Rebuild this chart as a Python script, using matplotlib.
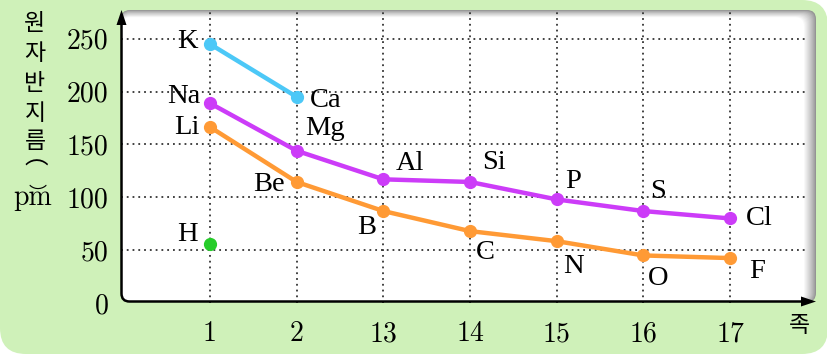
import matplotlib
matplotlib.use("Agg")
import matplotlib.pyplot as plt
from matplotlib.patches import FancyBboxPatch, Rectangle, Polygon, PathPatch
from matplotlib.path import Path

# ---------------- data ----------------
groups = ['1', '2', '13', '14', '15', '16', '17']
yticks = [0, 50, 100, 150, 200, 250]

period1_names = ['H']
period1_vals = [56]
period2_names = ['Li', 'Be', 'B', 'C', 'N', 'O', 'F']
period2_vals = [166.5, 114.5, 87, 68, 58.5, 45, 42.5]
period3_names = ['Na', 'Mg', 'Al', 'Si', 'P', 'S', 'Cl']
period3_vals = [189, 144, 117, 114.5, 98, 87, 80]
period4_names = ['K', 'Ca']
period4_vals = [245, 195]

y_title = ['원', '자', '반', '지', '름']
x_title = '족'
unit = 'pm'
paren_open, paren_close = '\ufe35', '\ufe36'

# label offsets (pixels: dx, dy with dy positive downward) and alignment
label_style = {
    'H': (-12, -9, 'right'), 'Li': (-10, 0, 'right'), 'Be': (-12, 3, 'right'),
    'B': (-7, 16, 'right'), 'C': (6, 21, 'left'), 'N': (6, 25, 'left'),
    'O': (5, 23, 'left'), 'F': (19, 13, 'left'),
    'Na': (-10, -7, 'right'), 'Mg': (8, -22, 'left'), 'Al': (12, -16, 'left'),
    'Si': (12, -19, 'left'), 'P': (8, -18, 'left'), 'S': (7, -20, 'left'),
    'Cl': (16, 0, 'left'), 'K': (-12, -3, 'right'), 'Ca': (13, 4, 'left'),
}

W, H = 828, 354
fig = plt.figure(figsize=(W / 100, H / 100), dpi=100)
fig.patch.set_facecolor('white')

# ---------- background overlay (pixel coordinates) ----------
bg = fig.add_axes([0, 0, 1, 1], zorder=0)
bg.set_xlim(0, W)
bg.set_ylim(H, 0)
bg.axis('off')
green = '#cff1b9'
bg.add_patch(FancyBboxPatch((0, 0), W, H, boxstyle='round,pad=0,rounding_size=26',
                            fc=green, ec='none'))
bg.add_patch(Rectangle((0, 0), 60, 60, fc=green, ec='none'))

# white plot box with gray shaded top/right edges
L, T, R, B = 121, 10, 816, 302
n = 12
for i in range(n + 1):
    g = 0.58 + (1 - 0.58) * (i / n) ** 0.8
    rr = R - i * 1.0
    tt = T + i * 0.6
    bg.add_patch(FancyBboxPatch((L, tt), rr - L, B - tt,
                                boxstyle='round,pad=0,rounding_size=9',
                                fc=(g, g, g), ec='none'))

# ---------- main axes ----------
px_per_unit = 1.057
y0_px = 303
top_px = 12
left_px, right_px = 121, 815
spacing = 86.67
x0_px = 210
ax_left = left_px / W
ax_w = (right_px - left_px) / W
ax_bottom = (H - y0_px) / H
ax_h = (y0_px - top_px) / H
ax = fig.add_axes([ax_left, ax_bottom, ax_w, ax_h], zorder=2)
ax.set_facecolor('none')
ax.set_xlim((left_px - x0_px) / spacing, (right_px - x0_px) / spacing)
ax.set_ylim(0, (y0_px - top_px) / px_per_unit)
for s in ax.spines.values():
    s.set_visible(False)
ax.tick_params(length=0)
ax.set_xticks(range(len(groups)))
ax.set_xticklabels(groups, family='cmr10', fontsize=20)
ax.set_yticks(yticks)
ax.set_yticklabels([str(v) for v in yticks], family='cmr10', fontsize=20)
ax.tick_params(axis='x', pad=13)
ax.tick_params(axis='y', pad=9)

grid_kw = dict(color='#333333', lw=1.3, ls=(0, (1, 2.2)), zorder=1)
for i in range(len(groups)):
    ax.axvline(i, **grid_kw)
for v in yticks[1:]:
    ax.axhline(v, xmax=(808 - left_px) / (right_px - left_px), **grid_kw)

series = [
    (period4_names, period4_vals, '#4cc8f7'),
    (period3_names, period3_vals, '#cc3cf8'),
    (period2_names, period2_vals, '#ff9a35'),
    (period1_names, period1_vals, '#26cc2a'),
]
for names, vals, col in series:
    xs = list(range(len(vals)))
    ax.plot(xs, vals, color=col, lw=3.2, marker='o', ms=8.5, zorder=3,
            solid_capstyle='round')
    for x, v, nm in zip(xs, vals, names):
        dx, dy, ha = label_style[nm]
        ax.annotate(nm, (x, v), xytext=(dx * 0.72, -dy * 0.72),
                    textcoords='offset points', ha=ha, va='center',
                    family='Liberation Serif', fontsize=20.5, zorder=4)

# ---------- foreground overlay: axis lines, arrows, titles ----------
fg = fig.add_axes([0, 0, 1, 1], zorder=5)
fg.set_xlim(0, W)
fg.set_ylim(H, 0)
fg.axis('off')
ax_x, ax_y, rad = 121.5, 301.5, 8
verts = [(ax_x, 22), (ax_x, ax_y - rad), (ax_x, ax_y), (ax_x + rad, ax_y), (806, ax_y)]
codes = [Path.MOVETO, Path.LINETO, Path.CURVE3, Path.CURVE3, Path.LINETO]
fg.add_patch(PathPatch(Path(verts, codes), fc='none', ec='black', lw=1.8))
fg.add_patch(Polygon([(ax_x, 10), (ax_x - 5, 25), (ax_x + 5, 25)], closed=True,
                     fc='black', ec='none'))
fg.add_patch(Polygon([(816, ax_y), (801, ax_y - 5), (801, ax_y + 5)], closed=True,
                     fc='black', ec='none'))

ko = ['Noto Sans CJK KR', 'DejaVu Sans']
title_y = [24, 53, 83, 113, 141]
for ch, yy in zip(y_title, title_y):
    fg.text(35, yy, ch, family=ko, fontsize=16.5, ha='center', va='center')
fg.text(36, 158, paren_open, family=ko, fontsize=17, ha='center', va='center')
fg.text(33, 198, unit, family='cmr10', fontsize=20, ha='center', va='center')
fg.text(38, 195, paren_close, family=ko, fontsize=13, ha='center', va='center')
fg.text(799, 325, x_title, family=ko, fontsize=16.5, ha='center', va='center')

fig.savefig('out.png', dpi=100, facecolor='white')
